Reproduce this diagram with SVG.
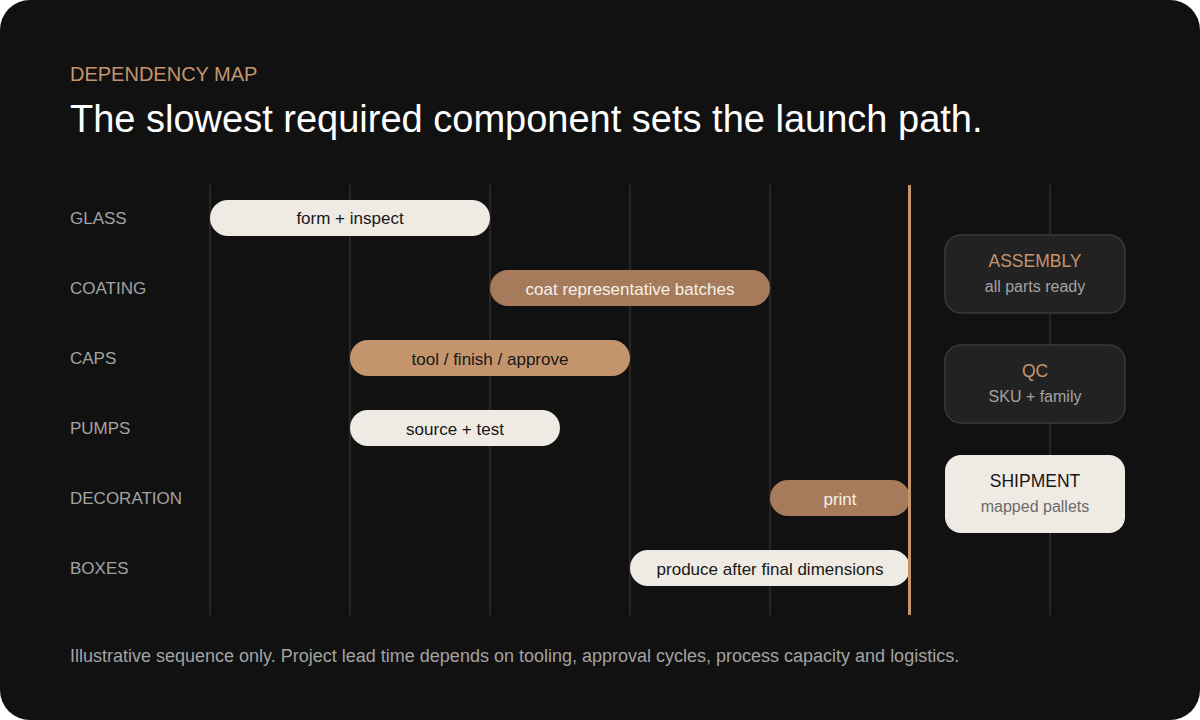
<svg xmlns="http://www.w3.org/2000/svg" width="1200" height="720" viewBox="0 0 1200 720">
<style>
text{font-family:"Liberation Sans",Arial,sans-serif}
.grid{stroke:#262626;stroke-width:2}
.row{font-size:17px;fill:#a3a3a3}
.bl{fill:#efebe4}
.bd{fill:#a67b5b}
.bc{fill:#c4956c}
.bt{font-size:17px;text-anchor:middle}
.dk{fill:#171717}
.lt{fill:#f5f1ea}
.card{fill:#222;stroke:#3a3a3a;stroke-width:1.5}
.ct{font-size:17.5px;text-anchor:middle;fill:#c4956c}
.cs{font-size:16px;text-anchor:middle;fill:#a3a3a3}
</style>
<rect x="0" y="0" width="1200" height="720" fill="#ffffff"/>
<rect x="0" y="0" width="1200" height="720" rx="30" fill="#111111"/>
<text x="70" y="81" font-size="20" fill="#c4956c">DEPENDENCY MAP</text>
<text x="70" y="132" font-size="38" fill="#ffffff">The slowest required component sets the launch path.</text>
<g id="grid">
<line class="grid" x1="210" y1="185" x2="210" y2="615"/>
<line class="grid" x1="350" y1="185" x2="350" y2="615"/>
<line class="grid" x1="490" y1="185" x2="490" y2="615"/>
<line class="grid" x1="630" y1="185" x2="630" y2="615"/>
<line class="grid" x1="770" y1="185" x2="770" y2="615"/>
<line class="grid" x1="1050" y1="185" x2="1050" y2="615"/>
</g>
<g id="labels">
<text class="row" x="70" y="224">GLASS</text>
<text class="row" x="70" y="294">COATING</text>
<text class="row" x="70" y="364">CAPS</text>
<text class="row" x="70" y="434">PUMPS</text>
<text class="row" x="70" y="504">DECORATION</text>
<text class="row" x="70" y="574">BOXES</text>
</g>
<g id="bar-glass"><rect class="bl" x="210" y="200" width="280" height="36" rx="18"/><text class="bt dk" x="350" y="224">form + inspect</text></g>
<g id="bar-coating"><rect class="bd" x="490" y="270" width="280" height="36" rx="18"/><text class="bt lt" x="630" y="295">coat representative batches</text></g>
<g id="bar-caps"><rect class="bc" x="350" y="340" width="280" height="36" rx="18"/><text class="bt dk" x="490" y="365">tool / finish / approve</text></g>
<g id="bar-pumps"><rect class="bl" x="350" y="410" width="210" height="36" rx="18"/><text class="bt dk" x="455" y="435">source + test</text></g>
<g id="bar-decoration"><rect class="bd" x="770" y="480" width="140" height="36" rx="18"/><text class="bt lt" x="840" y="505">print</text></g>
<g id="bar-boxes"><rect class="bl" x="630" y="550" width="280" height="36" rx="18"/><text class="bt dk" x="770" y="575">produce after final dimensions</text></g>
<g id="connectors"><line x1="909.5" y1="185" x2="909.5" y2="615" stroke="#c4956c" stroke-width="3"/></g>
<g id="assembly"><rect class="card" x="945" y="235" width="180" height="78" rx="16"/><text class="ct" x="1035" y="267">ASSEMBLY</text><text class="cs" x="1035" y="292">all parts ready</text></g>
<g id="qc"><rect class="card" x="945" y="345" width="180" height="78" rx="16"/><text class="ct" x="1035" y="377">QC</text><text class="cs" x="1035" y="402">SKU + family</text></g>
<g id="shipment"><rect x="945" y="455" width="180" height="78" rx="16" fill="#efebe4"/><text class="ct" x="1035" y="487" style="fill:#171717">SHIPMENT</text><text class="cs" x="1035" y="512" style="fill:#6b6b6b">mapped pallets</text></g>
<text x="70" y="662" font-size="18" fill="#a3a3a3">Illustrative sequence only. Project lead time depends on tooling, approval cycles, process capacity and logistics.</text>
</svg>
